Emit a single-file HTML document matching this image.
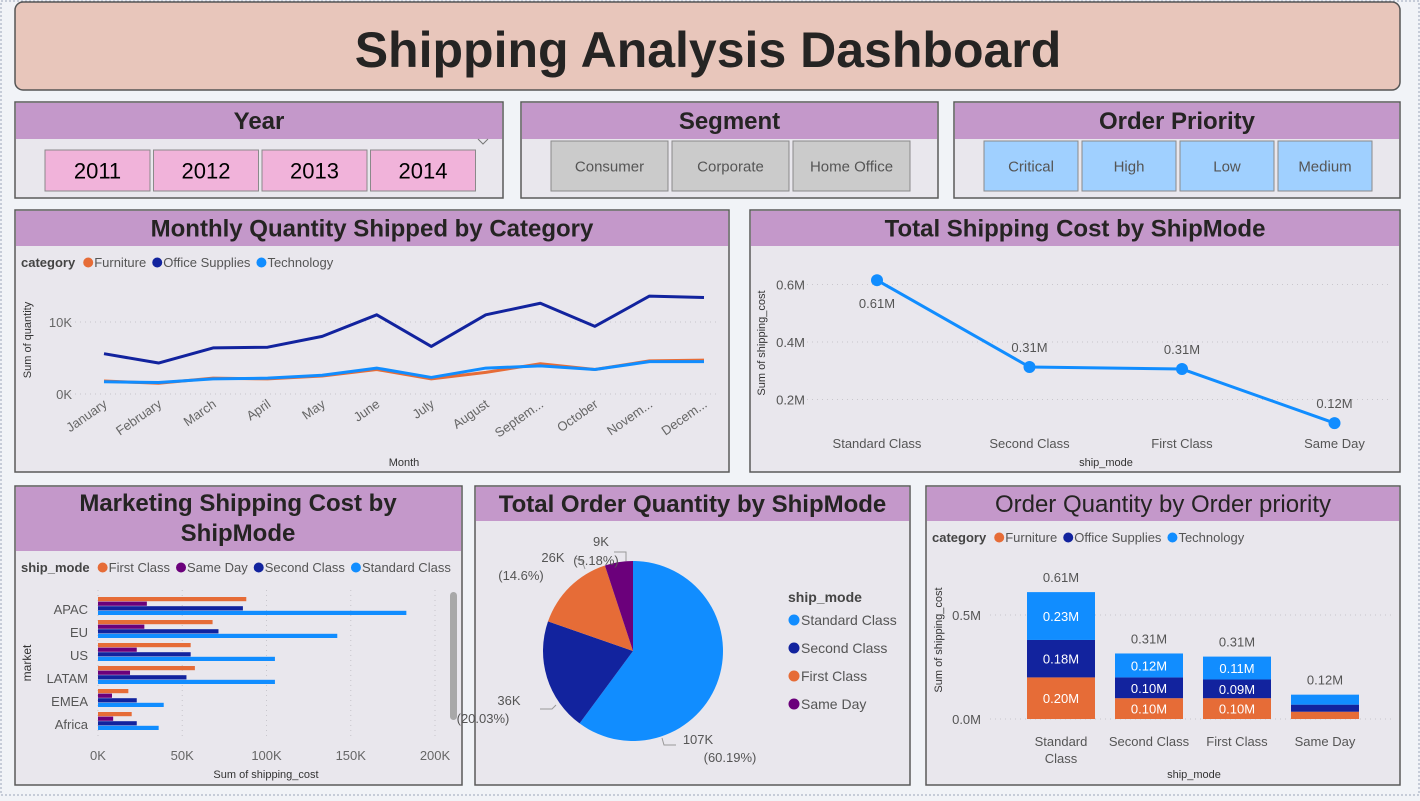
<!DOCTYPE html>
<html><head><meta charset="utf-8"><style>
body{margin:0;width:1420px;height:796px;overflow:hidden;background:#f1f3f7;font-family:"Liberation Sans",sans-serif}
svg text{font-family:"Liberation Sans",sans-serif}
</style></head><body>
<svg id="s" width="1420" height="796" viewBox="0 0 1420 796" xmlns="http://www.w3.org/2000/svg">
<rect x="1" y="1" width="1418" height="794" fill="none" stroke="#9aa6b8" stroke-dasharray="2,2"/>
<rect x="15" y="2" width="1385" height="88" rx="8" fill="#e8c6bb" stroke="#555" stroke-width="1.5"/>
<text x="708" y="67" text-anchor="middle" font-size="50" font-weight="bold" fill="#252423">Shipping Analysis Dashboard</text>
<g id="panels"></g>
<g id="content"></g>
</svg>
<script>
const NS="http://www.w3.org/2000/svg";
const S=document.getElementById('s');
function mk(tag,attrs,parent,txt){const e=document.createElementNS(NS,tag);for(const k in attrs)e.setAttribute(k,attrs[k]);if(txt!==undefined)e.textContent=txt;(parent||S).appendChild(e);return e;}

// ---- panels ----
const panelDefs=[
 ['year-slicer',15,102,488,96,36,'Year'],
 ['segment-slicer',521,102,417,96,36,'Segment'],
 ['priority-slicer',954,102,446,96,36,'Order Priority'],
 ['monthly-quantity-panel',15,210,714,262,35,'Monthly Quantity Shipped by Category'],
 ['shipping-cost-panel',750,210,650,262,35,'Total Shipping Cost by ShipMode'],
 ['marketing-cost-panel',15,486,447,299,64,''],
 ['order-quantity-pie-panel',475,486,435,299,34,'Total Order Quantity by ShipMode'],
 ['priority-quantity-panel',926,486,474,299,34,'Order Quantity by Order priority']
];
for(const p of panelDefs){
 let r=mk('rect',{x:p[1],y:p[2],width:p[3],height:p[4],fill:'#e9e7ed',stroke:'#5a5a5a','stroke-width':1.5});
 
 
 let h=mk('rect',{x:p[1]+1,y:p[2]+1,width:p[3]-2,height:p[5],fill:'#c498ca'});
 
 
 if(p[6]){
  let t=mk('text',{x:p[1]+p[3]/2,y:p[2]+p[5]/2+9,'text-anchor':'middle','font-size':24,'font-weight':p[0]=='priority-quantity-panel'?'normal':'bold',fill:'#252423'},null,p[6]);
  
  
 }
}
let mt=mk('text',{x:238,y:511,'text-anchor':'middle','font-size':24,'font-weight':'bold',fill:'#252423'},null,'Marketing Shipping Cost by');


mk('text',{x:238,y:541,'text-anchor':'middle','font-size':24,'font-weight':'bold',fill:'#252423'},null,'ShipMode');

// ---- slicer buttons ----
function buttons(items,x0,y,w,h,gap,fill,fs,name){
 items.forEach((t,i)=>{
  const x=x0+i*(w+gap);
  let b=mk('rect',{x:x,y:y,width:w,height:h,fill:fill,stroke:'#8a8a8a'});
  
  
  mk('text',{x:x+w/2,y:y+h/2+fs*0.36,'text-anchor':'middle','font-size':fs,fill:fs>18?'#000':'#555'},null,t);
 });
}
buttons(['2011','2012','2013','2014'],45,150,105,41,3.5,'#f1b3da',22,'year-button');
buttons(['Consumer','Corporate','Home Office'],551,141,117,50,4,'#cbcbcb',15,'segment-button');
buttons(['Critical','High','Low','Medium'],984,141,94,50,4,'#a0d0ff',15,'priority-button');
mk('path',{d:'M478 139 l5 5 l5 -5',fill:'none',stroke:'#777'});

const ORANGE='#e66c37',NAVY='#12239e',BLUE='#118dff',PURPLE='#6b007b';
function legend(x,y,title,items,colors,fs){
 let t=mk('text',{x:x,y:y,'font-size':fs,'font-weight':'bold',fill:'#444'},null,title);
 let cx=x+t.getComputedTextLength()+8;
 items.forEach((it,i)=>{
  let c=mk('circle',{cx:cx+5,cy:y-4.5,r:5,fill:colors[i]});
  
  
  let tt=mk('text',{x:cx+11,y:y,'font-size':fs,fill:'#555'},null,it);
  cx+=11+tt.getComputedTextLength()+6;
 });
}

// ---- Chart 1: monthly quantity ----
const months=['January','February','March','April','May','June','July','August','Septem...','October','Novem...','Decem...'];
const officeQty=[5.6,4.3,6.4,6.5,8.0,11.0,6.6,11.0,12.6,9.4,13.6,13.4];
const furnitureQty=[1.8,1.5,2.2,2.1,2.5,3.4,2.1,3.0,4.2,3.4,4.6,4.7];
const techQty=[1.7,1.6,2.1,2.2,2.6,3.6,2.3,3.6,3.9,3.4,4.5,4.5];
const qtyTicks=[0,10];
(function(){
 const X=i=>104+i*(600/11), Y=v=>394-v*7.2;
 legend(21,267,'category',['Furniture','Office Supplies','Technology'],[ORANGE,NAVY,BLUE],13);
 qtyTicks.forEach(t=>{mk('line',{x1:60,x2:720,y1:Y(t),y2:Y(t),stroke:'#c8c6cc','stroke-dasharray':'1,4'});mk('text',{x:72,y:Y(t)+5,'text-anchor':'end','font-size':13,fill:'#666'},null,t+'K');});
 months.forEach((m,i)=>{mk('text',{x:X(i)+4,y:406,'text-anchor':'end','font-size':13,fill:'#666',transform:`rotate(-35 ${X(i)+4} 406)`},null,m);});
 mk('text',{x:404,y:466,'text-anchor':'middle','font-size':11,fill:'#333'},null,'Month');
 mk('text',{x:31,y:340,'text-anchor':'middle','font-size':11,fill:'#333',transform:'rotate(-90 31 340)'},null,'Sum of quantity');
 [[furnitureQty,ORANGE,'furniture-line'],[officeQty,NAVY,'office-supplies-line'],[techQty,BLUE,'technology-line']].forEach(s=>{
  let p=mk('polyline',{points:s[0].map((v,i)=>X(i)+','+Y(v)).join(' '),fill:'none',stroke:s[1],'stroke-width':3,'stroke-linejoin':'round'});
  
  
 });
})();

// ---- Chart 2: shipping cost by ship mode ----
const modes=['Standard Class','Second Class','First Class','Same Day'];
const modeCost=[0.615,0.313,0.306,0.118];
const modeCostLabels=['0.61M','0.31M','0.31M','0.12M'];
const costTicks=[0.2,0.4,0.6];
(function(){
 const X=i=>877+i*152.5, Y=v=>457-v*287.5;
 costTicks.forEach(t=>{mk('line',{x1:782,x2:1390,y1:Y(t),y2:Y(t),stroke:'#c8c6cc','stroke-dasharray':'1,4'});mk('text',{x:805,y:Y(t)+5,'text-anchor':'end','font-size':13,fill:'#555'},null,t.toFixed(1)+'M');});
 mk('text',{x:765,y:343,'text-anchor':'middle','font-size':11,fill:'#333',transform:'rotate(-90 765 343)'},null,'Sum of shipping_cost');
 let p=mk('polyline',{points:modeCost.map((v,i)=>X(i)+','+Y(v)).join(' '),fill:'none',stroke:BLUE,'stroke-width':3});
 
 
 modeCost.forEach((v,i)=>{
  let c=mk('circle',{cx:X(i),cy:Y(v),r:6,fill:BLUE});
  
  
  mk('text',{x:X(i),y:Y(v)+(i==0?28:-15),'text-anchor':'middle','font-size':13,fill:'#555'},null,modeCostLabels[i]);
  mk('text',{x:X(i),y:448,'text-anchor':'middle','font-size':13,fill:'#555'},null,modes[i]);
 });
 mk('text',{x:1106,y:466,'text-anchor':'middle','font-size':11,fill:'#333'},null,'ship_mode');
})();

// ---- Chart 3: marketing cost bars ----
const markets=['APAC','EU','US','LATAM','EMEA','Africa'];
const firstClassCost=[88,68,55,57.5,18,20];
const sameDayCost=[29,27.5,23,19,8.3,9];
const secondClassCost=[86,71.5,55,52.5,23,23];
const standardClassCost=[183,142,105,105,39,36];
const barTicks=[0,50,100,150,200];
(function(){
 const X=v=>98+v*1.685, Yg=i=>602+i*23;
 legend(21,572,'ship_mode',['First Class','Same Day','Second Class','Standard Class'],[ORANGE,PURPLE,NAVY,BLUE],13);
 barTicks.forEach(t=>{mk('line',{x1:X(t),x2:X(t),y1:590,y2:740,stroke:'#c8c6cc','stroke-dasharray':'1,4'});mk('text',{x:X(t),y:760,'text-anchor':'middle','font-size':13,fill:'#666'},null,t+'K');});
 mk('text',{x:266,y:778,'text-anchor':'middle','font-size':11,fill:'#333'},null,'Sum of shipping_cost');
 mk('text',{x:31,y:663,'text-anchor':'middle','font-size':12,fill:'#333',transform:'rotate(-90 31 663)'},null,'market');
 const series=[[firstClassCost,ORANGE],[sameDayCost,PURPLE],[secondClassCost,NAVY],[standardClassCost,BLUE]];
 markets.forEach((m,i)=>{
  mk('text',{x:88,y:Yg(i)+12,'text-anchor':'end','font-size':13,fill:'#555'},null,m);
  series.forEach((s,j)=>{
   let r=mk('rect',{x:X(0),y:Yg(i)-5+j*4.6,width:X(s[0][i])-X(0),height:4.2,fill:s[1]});
   
   
  });
 });
 mk('rect',{x:450,y:592,width:7,height:128,rx:3.5,fill:'#a8a8a8',});
})();

// ---- Chart 4: pie ----
const pieLabels=['Standard Class','Second Class','First Class','Same Day'];
const pieValues=[107,36,26,9];
const pieText=[['107K','(60.19%)'],['36K','(20.03%)'],['26K','(14.6%)'],['9K','(5.18%)']];
(function(){
 const cx=633,cy=651,R=90,total=pieValues.reduce((a,b)=>a+b,0);
 const colors=[BLUE,NAVY,ORANGE,PURPLE];
 let a=0;
 const lpos=[[698,744,730,762],[509,705,483,723],[553,562,521,580],[601,546,596,565]];
 const leaders=['M662,738 L664,745 L676,745','M556,705 L552,709 L540,709','M585,569 L582,561 L575,558','M626,561 L626,552 L614,552'];
 pieValues.forEach((v,i)=>{
  const a2=a+v/total*2*Math.PI;
  const p=(t)=>[cx+R*Math.sin(t),cy-R*Math.cos(t)];
  const [x1,y1]=p(a),[x2,y2]=p(a2);
  let s=mk('path',{d:`M${cx},${cy} L${x1},${y1} A${R},${R} 0 ${a2-a>Math.PI?1:0} 1 ${x2},${y2} Z`,fill:colors[i]});
  
  
  mk('path',{d:leaders[i],fill:'none',stroke:'#999'});
  const L=lpos[i];
  mk('text',{x:L[0],y:L[1],'text-anchor':'middle','font-size':13,fill:'#555'},null,pieText[i][0]);
  mk('text',{x:L[2],y:L[3],'text-anchor':'middle','font-size':13,fill:'#555'},null,pieText[i][1]);
  a=a2;
 });
 mk('text',{x:788,y:602,'font-size':14,'font-weight':'bold',fill:'#444'},null,'ship_mode');
 pieLabels.forEach((l,i)=>{
  let c=mk('circle',{cx:794,cy:620+i*28,r:5.5,fill:colors[i]});
  
  
  mk('text',{x:801,y:625+i*28,'font-size':14,fill:'#555'},null,l);
 });
})();

// ---- Chart 5: stacked bars ----
const stackModes=['Standard Class','Second Class','First Class','Same Day'];
const furnitureCost=[0.20,0.10,0.10,0.035];
const officeCost=[0.18,0.10,0.09,0.034];
const techCost=[0.23,0.115,0.11,0.048];
const stackTotals=['0.61M','0.31M','0.31M','0.12M'];
const stackSegLabels=[['0.20M','0.18M','0.23M'],['0.10M','0.10M','0.12M'],['0.10M','0.09M','0.11M'],['','','']];
const stackTicks=[0,0.5];
(function(){
 const Y=v=>719-v*208, X=i=>1027+i*88, W=68;
 legend(932,542,'category',['Furniture','Office Supplies','Technology'],[ORANGE,NAVY,BLUE],13);
 stackTicks.forEach(t=>{mk('line',{x1:990,x2:1392,y1:Y(t),y2:Y(t),stroke:'#c8c6cc','stroke-dasharray':'1,4'});mk('text',{x:981,y:Y(t)+5,'text-anchor':'end','font-size':13,fill:'#555'},null,t.toFixed(1)+'M');});
 mk('text',{x:942,y:640,'text-anchor':'middle','font-size':11,fill:'#333',transform:'rotate(-90 942 640)'},null,'Sum of shipping_cost');
 mk('text',{x:1194,y:778,'text-anchor':'middle','font-size':11,fill:'#333'},null,'ship_mode');
 const cols=[ORANGE,NAVY,BLUE];
 stackModes.forEach((m,i)=>{
  let base=0;
  [furnitureCost,officeCost,techCost].forEach((s,j)=>{
   const v=s[i];
   let r=mk('rect',{x:X(i),y:Y(base+v),width:W,height:Y(base)-Y(base+v),fill:cols[j]});
   
   
   if(stackSegLabels[i][j])mk('text',{x:X(i)+W/2,y:(Y(base)+Y(base+v))/2+5,'text-anchor':'middle','font-size':13,fill:'#fff'},null,stackSegLabels[i][j]);
   base+=v;
  });
  mk('text',{x:X(i)+W/2,y:Y(base)-10,'text-anchor':'middle','font-size':13,fill:'#555'},null,stackTotals[i]);
  if(m=='Standard Class'){mk('text',{x:X(i)+W/2,y:746,'text-anchor':'middle','font-size':13,fill:'#555'},null,'Standard');mk('text',{x:X(i)+W/2,y:763,'text-anchor':'middle','font-size':13,fill:'#555'},null,'Class');}
  else mk('text',{x:X(i)+W/2,y:746,'text-anchor':'middle','font-size':13,fill:'#555'},null,m);
 });
})();
</script>
</body></html>
